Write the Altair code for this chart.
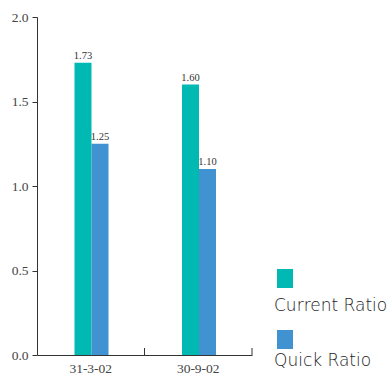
import altair as alt
import pandas as pd

dates = ["31-3-02", "30-9-02"]
series = ["Current Ratio", "Quick Ratio"]
current_ratio = [1.73, 1.60]
quick_ratio = [1.25, 1.10]
colors = ["#00B9B2", "#4192D0"]
y_ticks = [0.0, 0.5, 1.0, 1.5, 2.0]

rows = []
for i, d in enumerate(dates):
    rows.append({"date": d, "series": series[0], "value": current_ratio[i]})
    rows.append({"date": d, "series": series[1], "value": quick_ratio[i]})
df = pd.DataFrame(rows)

W, H = 215, 338

xscale = alt.Scale(domain=dates, paddingInner=0, paddingOuter=0)
offscale = alt.Scale(domain=series, paddingInner=0, paddingOuter=0, range=[37.5, 71.5])
color = alt.Color("series:N", scale=alt.Scale(domain=series, range=colors), legend=None)

bars = alt.Chart(df).mark_bar().encode(
    x=alt.X("date:N", scale=xscale, sort=dates,
            axis=alt.Axis(title=None, labelAngle=0, ticks=False, labelFont="Liberation Serif",
                          labelFontSize=13.5, labelColor="#444", labelPadding=6,
                          domainColor="#333")),
    xOffset=alt.XOffset("series:N", scale=offscale, sort=series),
    y=alt.Y("value:Q", scale=alt.Scale(domain=[0, 2], nice=False),
            axis=alt.Axis(title=None, values=y_ticks, format=".1f", grid=False,
                          tickSize=5, tickColor="#333", domainColor="#333",
                          labelFont="Liberation Serif", labelFontSize=13.5,
                          labelColor="#444", labelPadding=4)),
    color=color,
)

labels = alt.Chart(df).mark_text(baseline="bottom", dy=-2, font="Liberation Sans Narrow",
                                 fontSize=10.5, color="#333").encode(
    x=alt.X("date:N", scale=xscale, sort=dates),
    xOffset=alt.XOffset("series:N", scale=offscale, sort=series),
    y=alt.Y("value:Q"),
    text=alt.Text("value:Q", format=".2f"),
)

tick_df = pd.DataFrame({"date": dates})
ticks = alt.Chart(tick_df).mark_rule(color="#333", strokeWidth=1).encode(
    x=alt.X("date:N", scale=xscale, sort=dates, bandPosition=1),
    y=alt.value(H - 7),
    y2=alt.value(H),
)

layers = [bars, labels, ticks]
leg_sq_y = [252, 313]
leg_tx_y = [289, 344]
for i, s in enumerate(series):
    ldf = pd.DataFrame({"series": [s]})
    sq = alt.Chart(ldf).mark_rect(color=colors[i]).encode(
        x=alt.value(240), x2=alt.value(256),
        y=alt.value(leg_sq_y[i]), y2=alt.value(leg_sq_y[i] + 19),
    )
    tx = alt.Chart(ldf).mark_text(align="left", baseline="middle", font="DejaVu Sans",
                                  fontWeight=300, fontSize=17, color="#222").encode(
        x=alt.value(237), y=alt.value(leg_tx_y[i]), text="series:N",
    )
    layers += [sq, tx]

chart = alt.layer(*layers).properties(
    width=W, height=H,
    autosize=alt.AutoSizeParams(type="none"),
    padding={"left": 37, "top": 17, "right": 392 - 37 - W, "bottom": 376 - 17 - H},
).configure_view(stroke=None)

chart.save("out.html", embed_options={"renderer": "svg", "actions": False})
